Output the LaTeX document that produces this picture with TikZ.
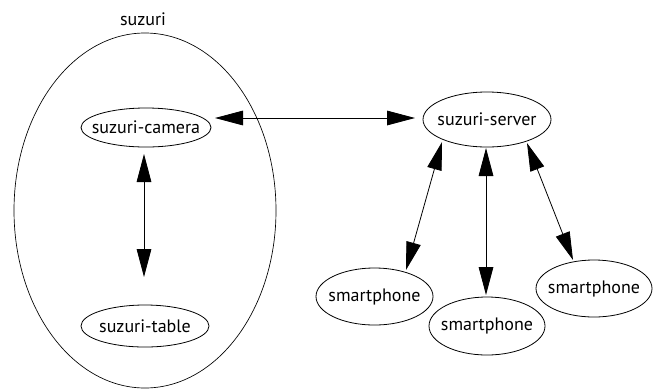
\documentclass[tikz,border=0pt]{standalone}
\usepackage{fontspec}
\setmainfont{PT Sans}
\usetikzlibrary{shapes.geometric,arrows.meta,calc}
\newcommand{\lbl}[1]{\makebox[0pt]{#1}}
\tikzset{
  oval/.style={ellipse, draw, line width=0.6pt, inner sep=0pt,
    font=\fontsize{13.5}{15}\selectfont},
  link/.style={line width=0.6pt, {Triangle[length=21pt,width=11pt]}-{Triangle[length=21pt,width=11pt]}}
}
\begin{document}
\begin{tikzpicture}[x=0.75pt,y=-0.75pt]
  \useasboundingbox (0,0) rectangle (659,390);
  % enclosing group
  \node[ellipse, draw, line width=0.5pt, inner sep=0pt, minimum width=262*0.75pt, minimum height=355*0.75pt] (grp) at (145,210.5) {};
  \node[font=\fontsize{13.5}{15}\selectfont] (title) at (143,19) {suzuri};
  % nodes
  \node[oval, minimum width=130*0.75pt, minimum height=39*0.75pt] (cam) at (146,127.5) {\lbl{suzuri-camera}};
  \node[oval, minimum width=128*0.75pt, minimum height=42*0.75pt] (tab) at (145,326) {\lbl{suzuri-table}};
  \node[oval, minimum width=128*0.75pt, minimum height=55*0.75pt] (srv) at (487,119.5) {\lbl{suzuri-server}};
  \node[oval, minimum width=117*0.75pt, minimum height=57*0.75pt] (p1) at (374.5,296.5) {\lbl{smartphone}};
  \node[oval, minimum width=116*0.75pt, minimum height=58*0.75pt] (p2) at (487,326) {\lbl{smartphone}};
  \node[oval, minimum width=116*0.75pt, minimum height=57*0.75pt] (p3) at (594,288.5) {\lbl{smartphone}};
  % connectors
  \draw[link] ($(cam.center)+(69,-9.5)$) -- ($(srv.center)+(-72,-1.5)$);
  \draw[link] ($(cam.center)+(-2,26.5)$) -- ($(tab.center)+(-1,-49)$);
  \draw[link] ($(srv.center)+(-45,22.5)$) -- ($(p1.center)+(31.5,-26.5)$);
  \draw[link] ($(srv.center)+(-1,28.5)$) -- ($(p2.center)+(-1,-31)$);
  \draw[link] ($(srv.center)+(40,23.5)$) -- ($(p3.center)+(-21,-28.5)$);
\end{tikzpicture}
\end{document}
